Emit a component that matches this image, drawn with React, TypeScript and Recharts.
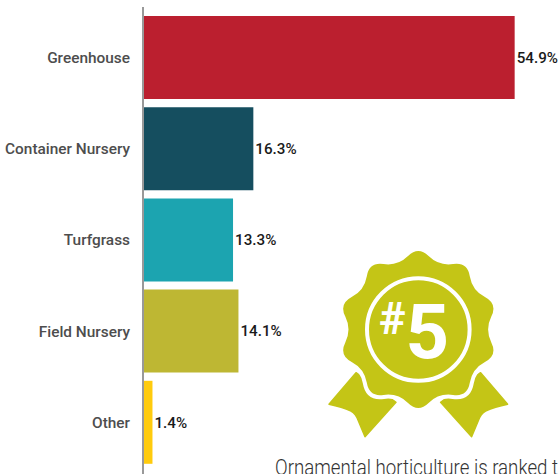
import { BarChart, Bar, Cell, XAxis, YAxis, LabelList } from 'recharts';

const categories = ['Greenhouse', 'Container Nursery', 'Turfgrass', 'Field Nursery', 'Other'];
const shares = [54.9, 16.3, 13.3, 14.1, 1.4];
const colors = ['#BB1F2F', '#154E5F', '#1CA4B0', '#BEB733', '#FFCB0D'];

const data = categories.map((name, i) => ({ name, share: shares[i] }));

const BADGE = '#C4C516';

// scalloped seal: ten lobes round the centre of the ring
function sealPath(cx: number, cy: number) {
  const pts: [number, number][] = [];
  for (let i = 0; i < 20; i++) {
    const r = i % 2 === 0 ? 83.5 : 66.6;
    const a = (i * 18 * Math.PI) / 180;
    pts.push([cx + r * Math.sin(a), cy - r * Math.cos(a)]);
  }
  const mid = (a: [number, number], b: [number, number]) =>
    `${(a[0] + b[0]) / 2} ${(a[1] + b[1]) / 2}`;
  let d = `M${mid(pts[19], pts[0])}`;
  pts.forEach((p, i) => {
    d += ` Q${p[0]} ${p[1]} ${mid(p, pts[(i + 1) % 20])}`;
  });
  return d + 'Z';
}

function Badge() {
  const cx = 418.3;
  const cy = 329.5;
  return (
    <svg
      width={559}
      height={474}
      style={{ position: 'absolute', left: 0, top: 0, pointerEvents: 'none' }}
    >
      <path
        d="M356 372.7 L329 404.3 Q342 407 351 411 Q356 414 358 420 L365 436.7 L396 402.3Z"
        fill={BADGE}
        stroke={BADGE}
        strokeWidth={1.5}
        strokeLinejoin="round"
      />
      <path
        d="M480.6 372.7 L507.6 404.3 Q494.6 407 485.6 411 Q480.6 414 478.6 420 L471.6 436.7 L440.6 402.3Z"
        fill={BADGE}
        stroke={BADGE}
        strokeWidth={1.5}
        strokeLinejoin="round"
      />
      <path d={sealPath(cx, cy)} fill={BADGE} stroke="#fff" strokeWidth={8} paintOrder="stroke" />
      <circle cx={cx} cy={cy} r={51.3} fill="none" stroke="#fff" strokeWidth={4} />
      <text
        x={379}
        y={334}
        fill="#fff"
        style={{ fontFamily: 'Roboto', fontWeight: 700, fontSize: 45 }}
      >
        #
      </text>
      <text
        x={405.5}
        y={358}
        fill="#fff"
        style={{ fontFamily: 'Roboto', fontWeight: 700, fontSize: 76 }}
      >
        5
      </text>
      <text
        x={275}
        y={475}
        fill="#333"
        textLength={283}
        lengthAdjust="spacingAndGlyphs"
        style={{ fontFamily: 'Roboto', fontWeight: 300, fontSize: 22 }}
      >
        Ornamental horticulture is ranked t
      </text>
    </svg>
  );
}

export default function App() {
  return (
    <div style={{ position: 'absolute', left: 0, top: 0, width: 559, height: 474, overflow: 'hidden' }}>
      <BarChart
        width={559}
        height={474}
        data={data}
        layout="vertical"
        margin={{ top: 7, right: 0, bottom: 0, left: 0 }}
      >
        <XAxis type="number" hide domain={[0, 61.45]} />
        <YAxis
          type="category"
          dataKey="name"
          width={143}
          axisLine={{ stroke: '#999999', strokeWidth: 2 }}
          tickLine={false}
          tickSize={0}
          tickMargin={13}
          padding={{ top: 5, bottom: 6 }}
          interval={0}
          tick={{ fill: '#4D4D4D', fontSize: 15.4, fontWeight: 500, fontFamily: 'Roboto' }}
        />
        <Bar dataKey="share" barSize={83} isAnimationActive={false}>
          {data.map((d, i) => (
            <Cell key={d.name} fill={colors[i]} />
          ))}
          <LabelList
            dataKey="share"
            position="right"
            offset={2}
            formatter={(v: number) => `${v}%`}
            style={{ fill: '#1A1A1A', fontSize: 15.2, fontWeight: 500, fontFamily: 'Roboto' }}
          />
        </Bar>
      </BarChart>
      <Badge />
    </div>
  );
}
